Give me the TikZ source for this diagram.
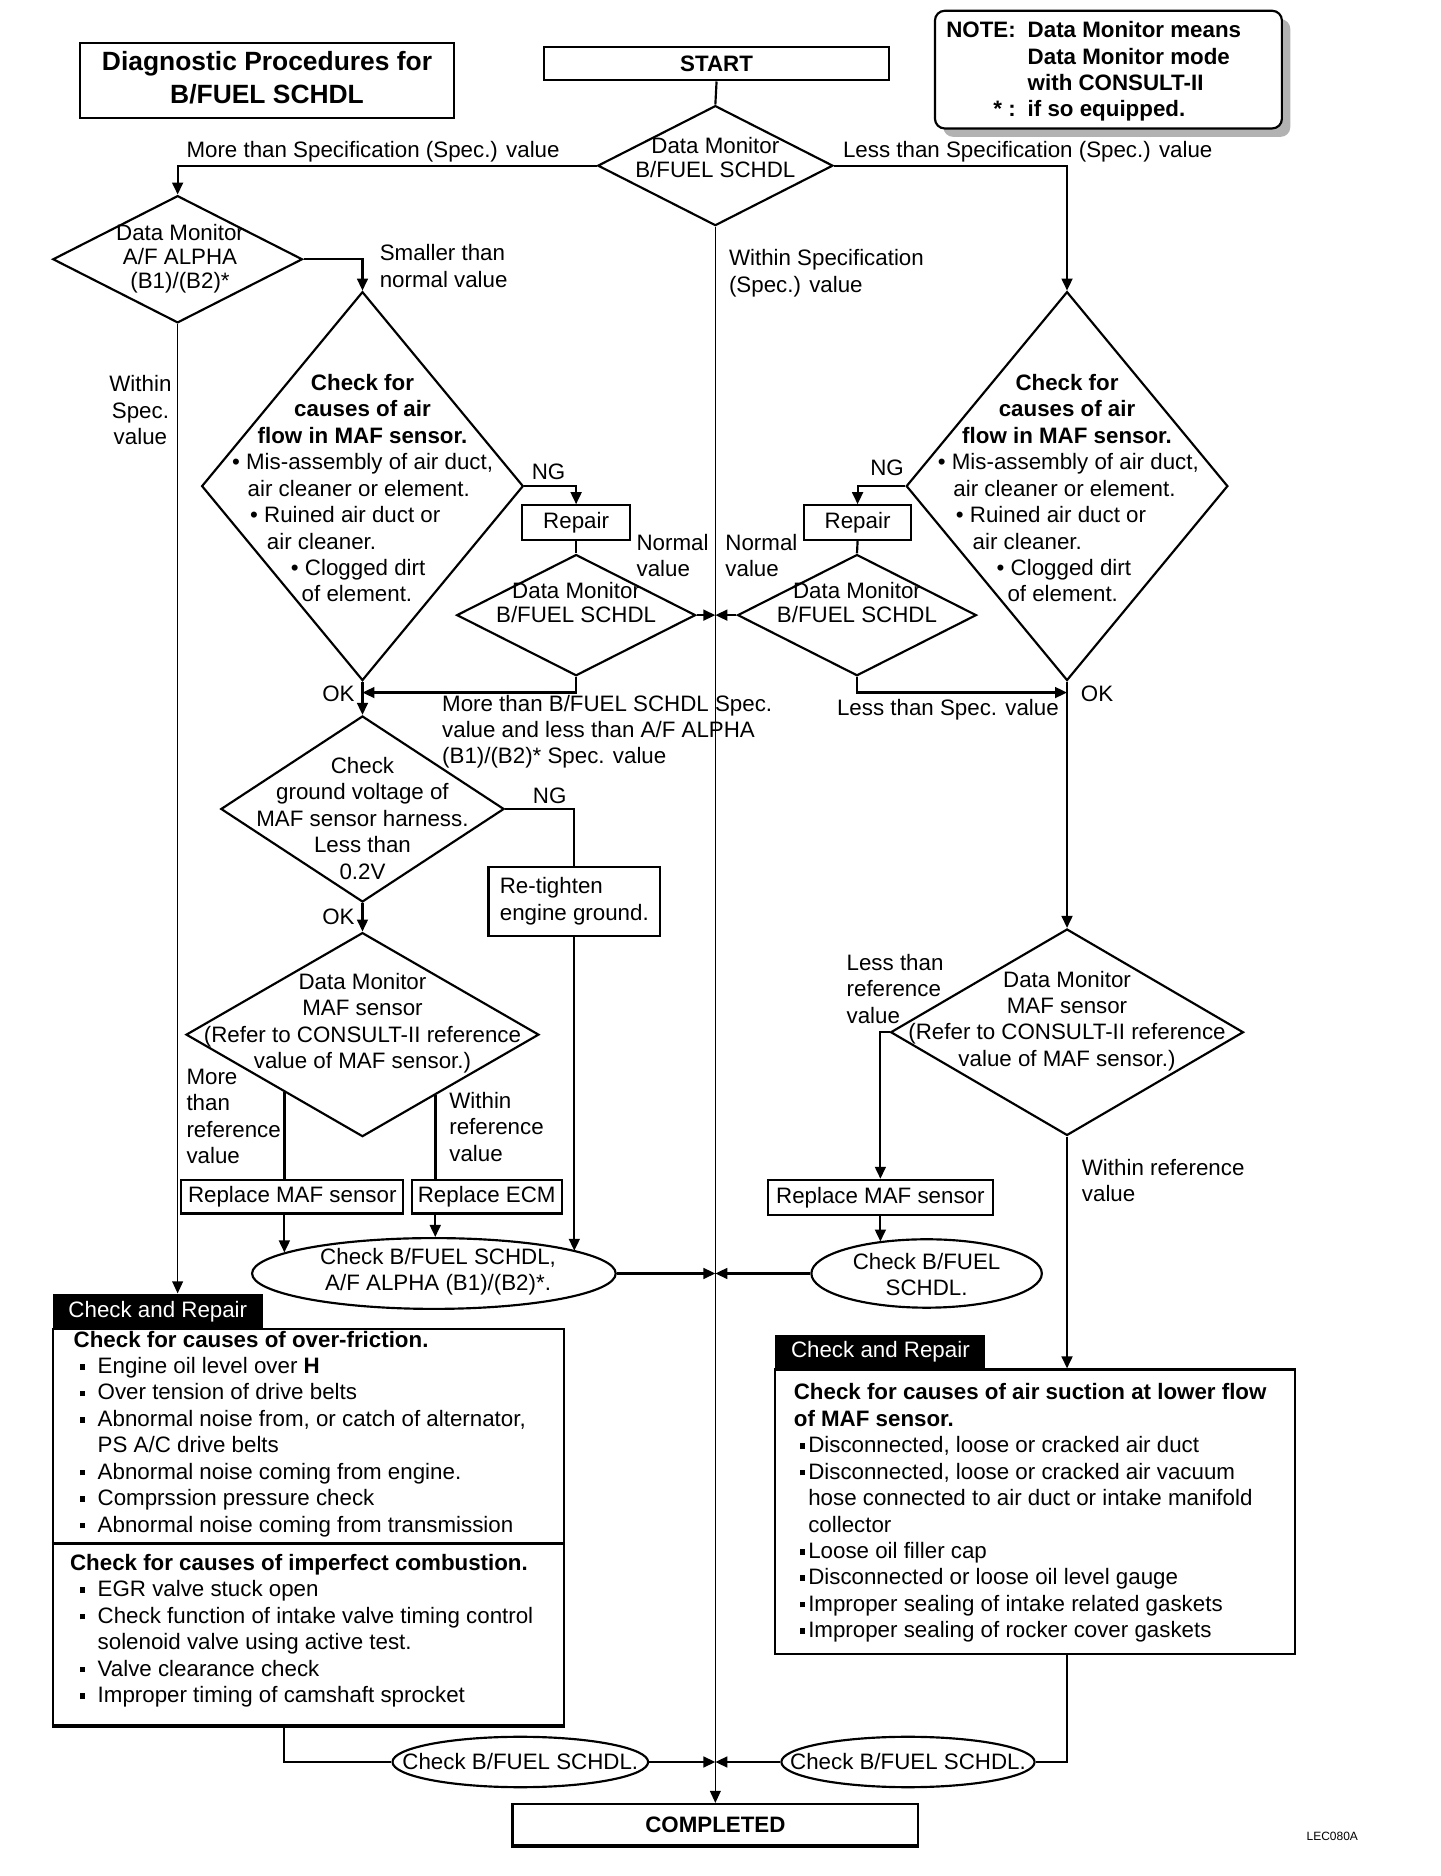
\documentclass[tikz,border=0pt]{standalone}
\usepackage{fontspec}
\setmainfont{Liberation Sans}
\usetikzlibrary{shapes.geometric,arrows.meta,calc}

\newcommand{\lns}[1]{\begin{tabular}{@{}c@{}}#1\end{tabular}}
\newcommand{\lnl}[1]{\begin{tabular}{@{}l@{}}#1\end{tabular}}
\newcommand{\sqb}{\raisebox{1.6pt}{\rule{2.3pt}{2.3pt}}}
\newcommand{\lb}{\hspace*{2.5pt}\makebox[7.5pt][l]{\sqb}}
\newcommand{\rb}{\hspace*{2.5pt}\makebox[3.5pt][l]{\sqb}}

\tikzset{
  every node/.style={font=\fontsize{9.3}{11}\selectfont},
  txt/.style={inner sep=0pt},
  tight/.style={inner sep=0pt, font=\fontsize{9.3}{10}\selectfont},
  dia/.style={diamond, draw, line width=0.9pt, inner sep=0pt},
  box/.style={rectangle, draw, line width=0.9pt, inner sep=0pt},
  oval/.style={ellipse, draw, line width=0.9pt, inner sep=0pt},
  tabbox/.style={rectangle, fill=black, text=white, inner sep=0pt},
  arr/.style={line width=0.9pt, -{Triangle[length=5pt,width=4.5pt]}},
  ln/.style={line width=0.9pt},
  thinln/.style={line width=0.5pt},
}

\begin{document}
\begin{tikzpicture}[x=0.5pt,y=-0.5pt]
\useasboundingbox (0,0) rectangle (1200,1563);

% header
\node[box, minimum width=155.5pt, minimum height=31pt, font=\fontsize{11}{13.5}\selectfont\bfseries] (title) at (222.5,67) {\lns{Diagnostic Procedures for\\B/FUEL SCHDL}};
\node[box, minimum width=144pt, minimum height=14pt, font=\fontsize{9.3}{11}\selectfont\bfseries] (start) at (597,53) {START};
\fill[gray!60, rounded corners=4pt] (786,16) rectangle (1075,114);
\node[box, rounded corners=4pt, fill=white, minimum width=144.5pt, minimum height=49pt] (note) at (923.5,58) {};
\node[txt, anchor=west, font=\fontsize{9.3}{11}\selectfont\bfseries] (notet) at (788,60) {\begin{tabular}{@{}r@{\hspace{5pt}}l@{}}NOTE: & Data Monitor means\\ & Data Monitor mode\\ & with CONSULT-II\\ {*} : & if so equipped.\end{tabular}};

% first decisions
\node[dia, minimum width=98pt, minimum height=50pt] (d1) at (596,138) {};
\node[tight] (d1t) at (596,134) {\lns{Data Monitor\\B/FUEL SCHDL}};
\node[dia, minimum width=104pt, minimum height=53pt] (d2) at (148,216) {};
\node[tight] (d2t) at (150,216) {\lns{Data Monitor\\A/F ALPHA\\(B1)/(B2)*}};

% left column
\node[dia, minimum width=134pt, minimum height=162pt] (d3) at (302,405) {};
\node[txt, font=\fontsize{9.3}{11}\selectfont\bfseries] (d3a) at (302,343) {\lns{Check for\\causes of air\\flow in MAF sensor.}};
\node[txt, anchor=west] (d3b) at (193,442) {\lnl{• Mis-assembly of air duct,\\
  \hspace*{6.5pt}air cleaner or element.\\
  \hspace*{7.5pt}• Ruined air duct or\\
  \hspace*{14.5pt}air cleaner.\\
  \hspace*{24.5pt}• Clogged dirt\\
  \hspace*{29pt}of element.}};
\node[box, minimum width=45pt, minimum height=14.5pt] (rep1) at (480,435.5) {Repair};
\node[dia, minimum width=99.5pt, minimum height=50.5pt] (d4) at (480,512.5) {};
\node[tight] (d4t) at (480,505) {\lns{Data Monitor\\B/FUEL SCHDL}};
\node[dia, minimum width=118pt, minimum height=77.5pt] (d5) at (302,674) {};
\node[txt] (d5t) at (302,684) {\lns{Check\\ground voltage of\\MAF sensor harness.\\Less than\\0.2V}};
\node[box, minimum width=71.5pt, minimum height=29pt, align=left] (rt) at (478.5,751) {Re-tighten\\engine ground.};
\node[dia, minimum width=147pt, minimum height=85pt] (d6) at (302,862) {};
\node[txt] (d6t) at (302,853) {\lns{Data Monitor\\MAF sensor\\(Refer to CONSULT-II reference\\value of MAF sensor.)}};
\node[box, minimum width=92.5pt, minimum height=14pt] (rmaf1) at (243.5,997) {Replace MAF sensor};
\node[box, minimum width=62.5pt, minimum height=14pt] (ecm) at (405.5,997) {Replace ECM};
\node[oval, minimum width=151.5pt, minimum height=29.5pt] (e1) at (361.5,1061) {};
\node[txt] (e1t) at (365,1060) {\lns{Check B/FUEL SCHDL,\\A/F ALPHA (B1)/(B2)*.}};

% right column
\node[dia, minimum width=134pt, minimum height=162pt] (d7) at (889,405) {};
\node[txt, font=\fontsize{9.3}{11}\selectfont\bfseries] (d7a) at (889,343) {\lns{Check for\\causes of air\\flow in MAF sensor.}};
\node[txt, anchor=west] (d7b) at (781,442) {\lnl{• Mis-assembly of air duct,\\
  \hspace*{6.5pt}air cleaner or element.\\
  \hspace*{7.5pt}• Ruined air duct or\\
  \hspace*{14.5pt}air cleaner.\\
  \hspace*{24.5pt}• Clogged dirt\\
  \hspace*{29pt}of element.}};
\node[box, minimum width=44.5pt, minimum height=14.5pt] (rep2) at (714.5,435.5) {Repair};
\node[dia, minimum width=99.5pt, minimum height=50.5pt] (d8) at (714,512.5) {};
\node[tight] (d8t) at (714,505) {\lns{Data Monitor\\B/FUEL SCHDL}};
\node[dia, minimum width=147pt, minimum height=86pt] (d9) at (889,860) {};
\node[txt] (d9t) at (889,851) {\lns{Data Monitor\\MAF sensor\\(Refer to CONSULT-II reference\\value of MAF sensor.)}};
\node[box, minimum width=93.5pt, minimum height=14.5pt] (rmaf2) at (733.5,997.5) {Replace MAF sensor};
\node[oval, minimum width=96pt, minimum height=28.5pt] (e2) at (772,1061) {};
\node[txt] (e2t) at (772,1064) {\lns{Check B/FUEL\\SCHDL.}};

% check and repair boxes
\node[tabbox, minimum width=87.5pt, minimum height=14.5pt] (cr1tab) at (131.5,1092.5) {Check and Repair};
\node[box, minimum width=213pt, minimum height=165pt] (cr1) at (257,1272) {};
\draw[line width=1.6pt] ([yshift=-7pt]cr1.west) -- ([yshift=-7pt]cr1.east);
\draw[line width=1.6pt] (cr1.south west) -- (cr1.south east);
\node[txt, anchor=west] (cr1a) at (61,1195) {\lnl{\textbf{Check for causes of over-friction.}\\
  \lb Engine oil level over \textbf{H}\\
  \lb Over tension of drive belts\\
  \lb Abnormal noise from, or catch of alternator,\\
  \hspace*{10pt}PS A/C drive belts\\
  \lb Abnormal noise coming from engine.\\
  \lb Comprssion pressure check\\
  \lb Abnormal noise coming from transmission}};
\node[txt, anchor=west] (cr1b) at (58,1359) {\lnl{\textbf{Check for causes of imperfect combustion.}\\
  \hspace*{1.5pt}\lb EGR valve stuck open\\
  \hspace*{1.5pt}\lb Check function of intake valve timing control\\
  \hspace*{11.5pt}solenoid valve using active test.\\
  \hspace*{1.5pt}\lb Valve clearance check\\
  \hspace*{1.5pt}\lb Improper timing of camshaft sprocket}};

\node[tabbox, minimum width=87.5pt, minimum height=14.5pt] (cr2tab) at (733.5,1126.5) {Check and Repair};
\node[box, minimum width=216.5pt, minimum height=118.5pt] (cr2) at (862.5,1259.5) {};
\node[txt, anchor=west] (cr2a) at (661,1261) {\lnl{\textbf{Check for causes of air suction at lower flow}\\
  \textbf{of MAF sensor.}\\
  \rb Disconnected, loose or cracked air duct\\
  \rb Disconnected, loose or cracked air vacuum\\
  \hspace*{6pt}hose connected to air duct or intake manifold\\
  \hspace*{6pt}collector\\
  \rb Loose oil filler cap\\
  \rb Disconnected or loose oil level gauge\\
  \rb Improper sealing of intake related gaskets\\
  \rb Improper sealing of rocker cover gaskets}};

% bottom
\node[oval, minimum width=106.5pt, minimum height=21pt] (e3) at (433.5,1468) {};
\node[txt] (e3t) at (433.5,1468) {Check B/FUEL SCHDL.};
\node[oval, minimum width=105.5pt, minimum height=21pt] (e4) at (756.5,1468) {};
\node[txt] (e4t) at (756.5,1468) {Check B/FUEL SCHDL.};
\node[box, minimum width=169pt, minimum height=17pt, font=\fontsize{9.3}{11}\selectfont\bfseries] (done) at (596,1520) {COMPLETED};
\draw[line width=1.6pt] (done.south west) -- (done.south east);
\node[txt, font=\fontsize{5}{6}\selectfont] (code) at (1110,1530) {LEC080A};

% labels
\node[txt, anchor=west] (l1) at (155,126) {More than Specification (Spec.) value};
\node[txt, anchor=west] (l2) at (702,126) {Less than Specification (Spec.) value};
\node[txt, anchor=west] (l3) at (607,228) {\lnl{Within Specification\\(Spec.) value}};
\node[txt, anchor=west] (l4) at (316,224) {\lnl{Smaller than\\normal value}};
\node[txt] (l5) at (117,344) {\lns{Within\\Spec.\\value}};
\node[txt] (l6) at (457,393) {NG};
\node[txt, anchor=west] (l7) at (530,465) {\lnl{Normal\\value}};
\node[txt, anchor=west] (l8) at (368,610) {\lnl{More than B/FUEL SCHDL Spec.\\value and less than A/F ALPHA\\(B1)/(B2)* Spec. value}};
\node[txt] (l9) at (282,578) {OK};
\node[txt] (l10) at (458,663) {NG};
\node[txt] (l11) at (282,764) {OK};
\node[txt, anchor=west] (l12) at (155,932) {\lnl{More\\than\\reference\\value}};
\node[txt, anchor=west] (l13) at (374,941) {\lnl{Within\\reference\\value}};
\node[txt] (l14) at (739,390) {NG};
\node[txt, anchor=west] (l15) at (604,465) {\lnl{Normal\\value}};
\node[txt, anchor=west] (l16) at (697,591) {Less than Spec. value};
\node[txt] (l17) at (914,578) {OK};
\node[txt, anchor=west] (l18) at (705,826) {\lnl{Less than\\reference\\value}};
\node[txt, anchor=west] (l19) at (901,986) {\lnl{Within reference\\value}};

% connectors
\draw[ln] (start.south) -- (d1.north);
\draw[arr] (d1.west) -| (d2.north);
\draw[arr] (d1.east) -| (d7.north);
\draw[arr, line width=0.5pt] (d1.south) -- (done.north);
\draw[arr] (d2.east) -| (d3.north);
\draw[arr, line width=0.5pt] (d2.south) -- (d2.south |- cr1tab.north);
\draw[arr] (d3.east) -| (rep1.north);
\draw[ln] (rep1.south) -- (d4.north);
\draw[arr] (d4.east) -- (d4.east -| d1.south);
\coordinate (j1) at (302,577);
\draw[arr] (d4.south) |- (j1);
\draw[arr] (d3.south) -- (d5.north);
\draw[ln] (d5.east) -| (rt.north);
\draw[arr] (rt.south) -- (rt.south |- e1.9);
\draw[arr] (d5.south) -- (d6.north);
\coordinate (m1) at ($(d6.west)!0.56!(d6.south)$);
\coordinate (m2) at ($(d6.south)!0.41!(d6.east)$);
\draw[line width=1.4pt] (m1) -- (m1 |- rmaf1.north);
\draw[line width=1.4pt] (m2) -- (m2 |- ecm.north);
\draw[arr] (m1 |- rmaf1.south) -- (m1 |- e1.172);
\draw[arr] (m2 |- ecm.south) -- (m2 |- e1.north);
\draw[arr] (e1.east) -- (e1.east -| d1.south);

\draw[arr] (d7.west) -| (rep2.north);
\draw[ln] (rep2.south) -- (d8.north);
\draw[arr] (d8.west) -- (d8.west -| d1.south);
\coordinate (j2) at (889,577);
\draw[arr] (d8.south) |- (j2);
\draw[arr] (d7.south) -- (d9.north);
\draw[arr] (d9.west) -| (rmaf2.north);
\draw[arr] (rmaf2.south) -- (rmaf2.south |- e2.147);
\draw[arr] (e2.west) -- (e2.west -| d1.south);
\draw[arr] (d9.south) -- (d9.south |- cr2.north);

\coordinate (m3) at ($(cr1.south west)!0.453!(cr1.south east)$);
\draw[ln] (m3) |- (e3.west);
\draw[arr] (e3.east) -- (e3.east -| d1.south);
\draw[ln] (d9.south |- cr2.south) |- (e4.east);
\draw[arr] (e4.west) -- (e4.west -| d1.south);
\end{tikzpicture}
\end{document}
